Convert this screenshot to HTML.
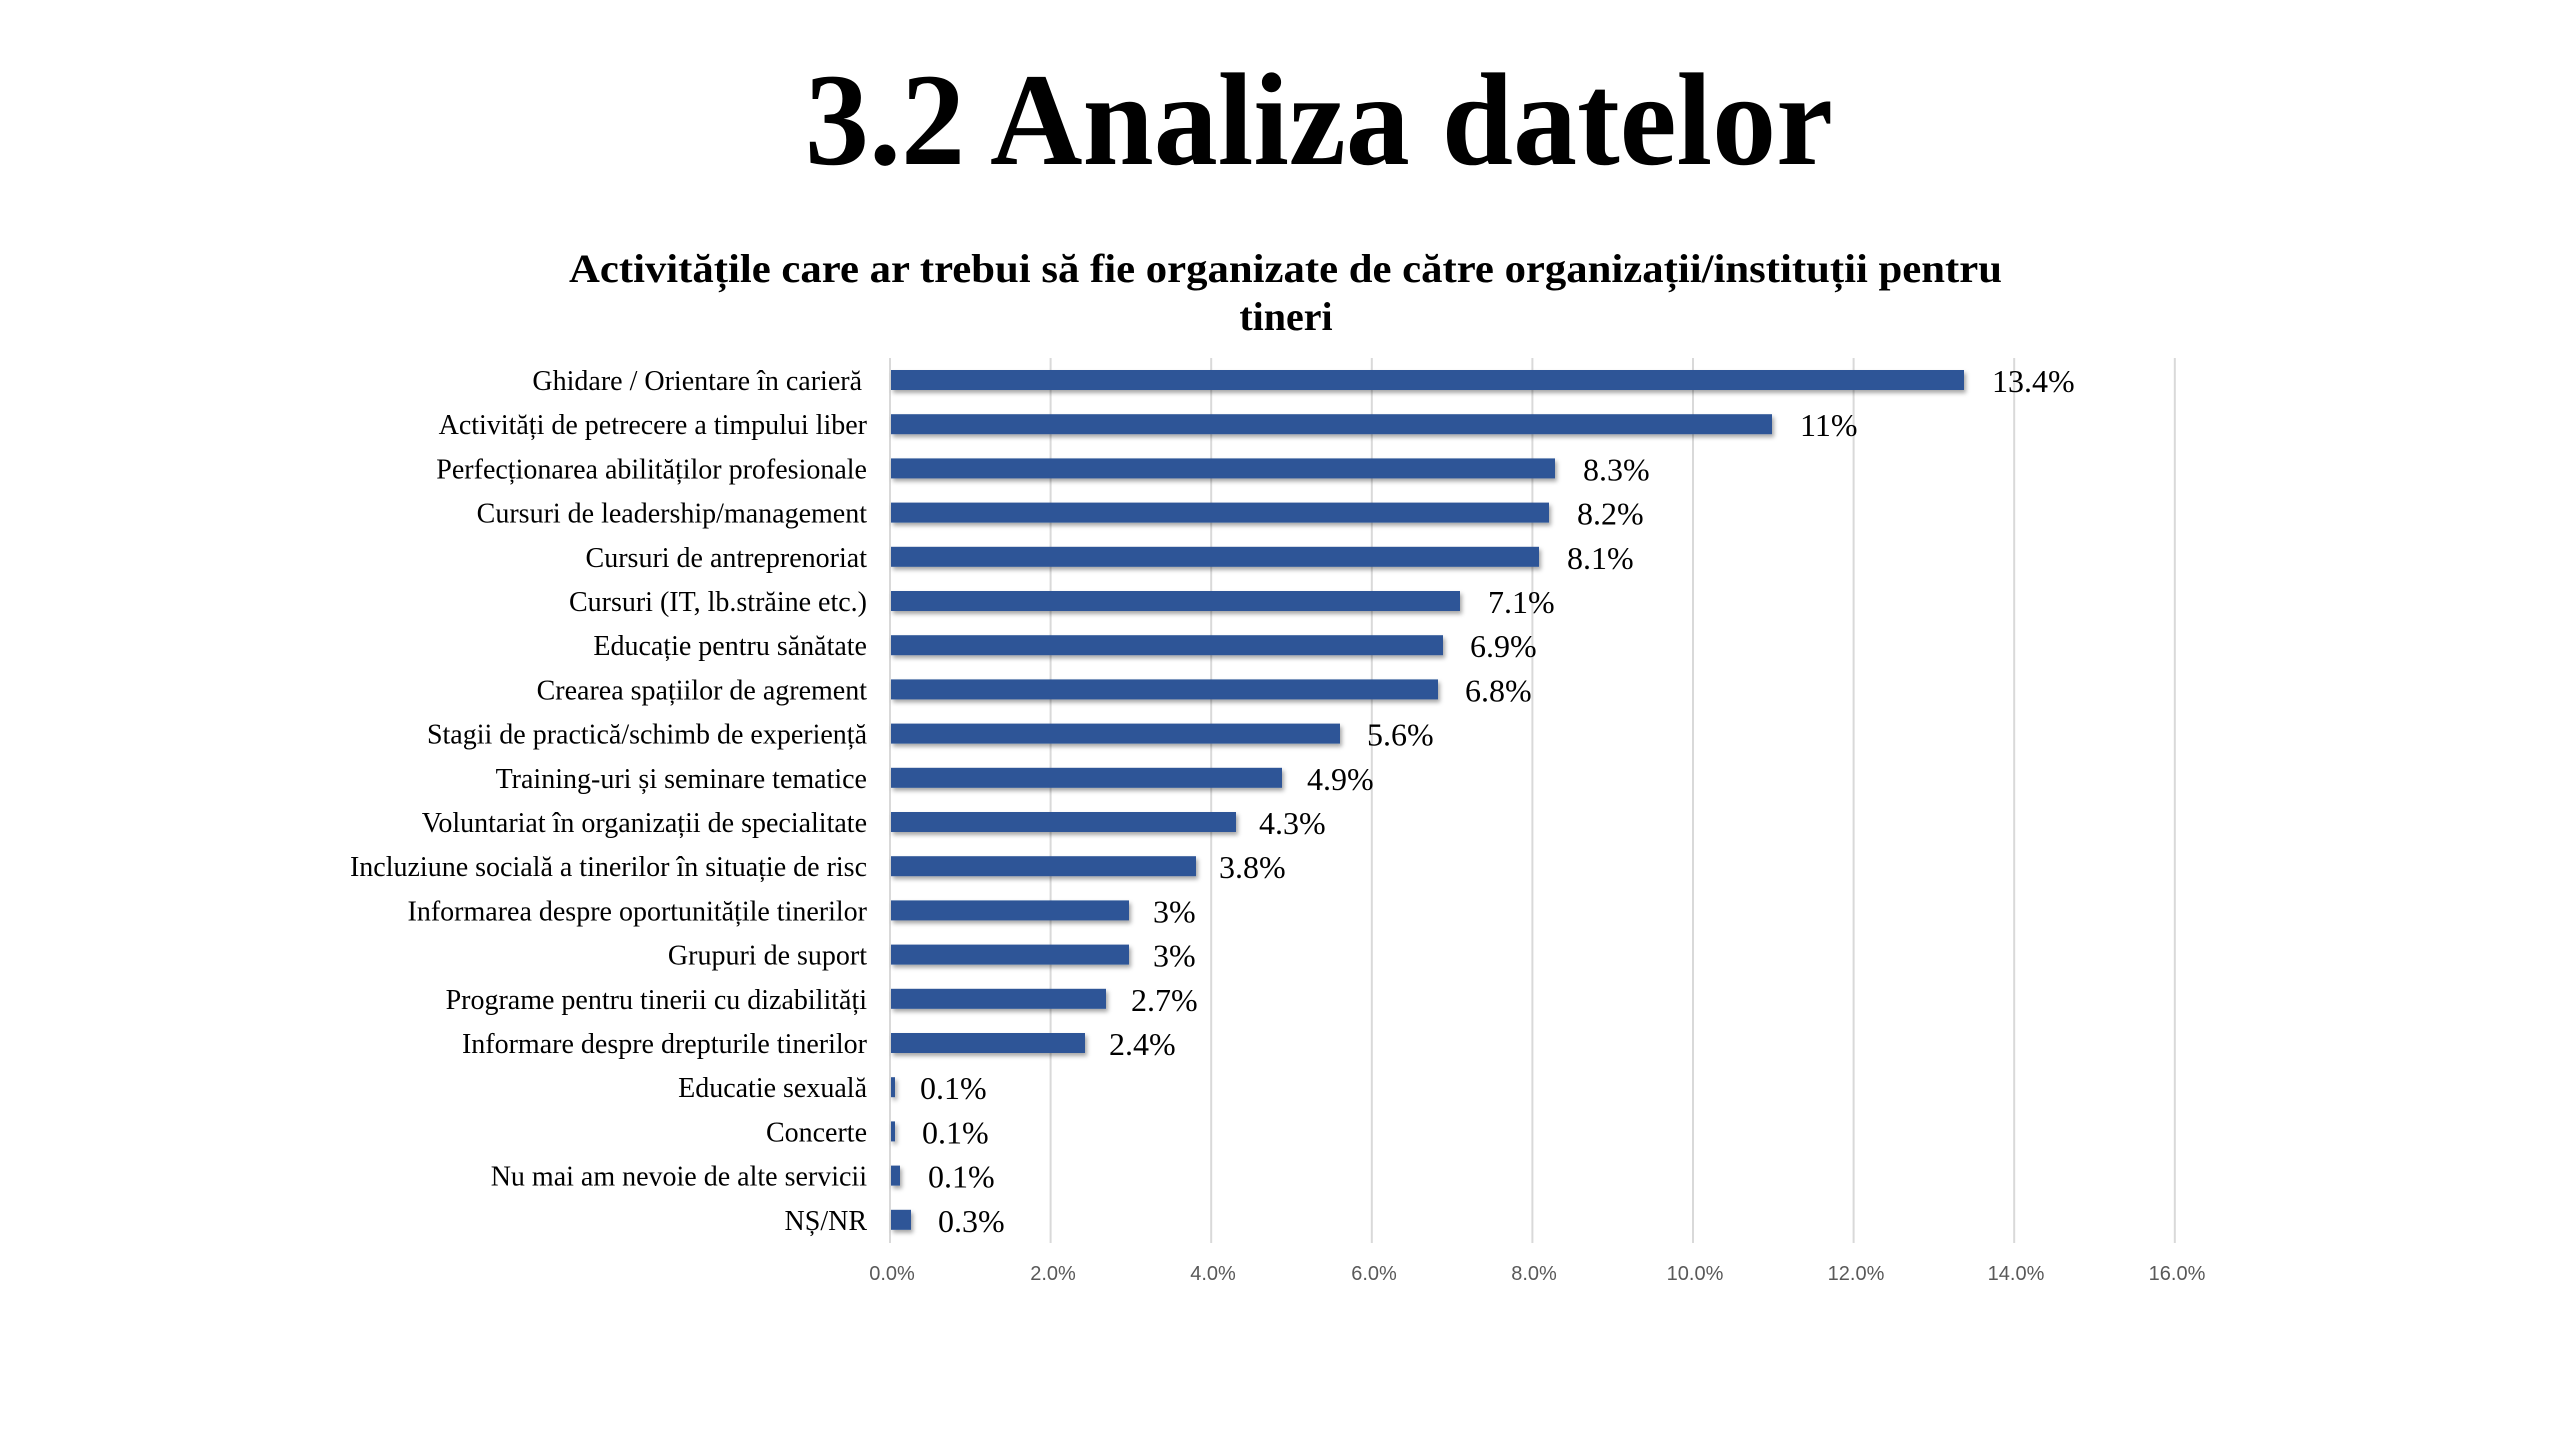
<!DOCTYPE html>
<html><head><meta charset="utf-8"><style>
html,body{margin:0;padding:0;background:#fff;}
svg{display:block;}
</style></head><body>
<svg width="2560" height="1440" viewBox="0 0 2560 1440" xmlns="http://www.w3.org/2000/svg">
<defs>
<filter id="sh" x="-5%" y="-50%" width="110%" height="200%">
<feDropShadow dx="2" dy="3" stdDeviation="2" flood-color="#000" flood-opacity="0.35"/>
</filter>
</defs>
<rect width="2560" height="1440" fill="#fff"/>
<text x="805" y="164" font-family="Liberation Serif, serif" font-weight="bold" font-size="132" textLength="1028" lengthAdjust="spacingAndGlyphs" fill="#000">3.2 Analiza datelor</text>
<text x="569" y="282" font-family="Liberation Serif, serif" font-weight="bold" font-size="40" textLength="1433" lengthAdjust="spacingAndGlyphs" fill="#000">Activitățile care ar trebui să fie organizate de către organizații/instituții pentru</text>
<text x="1286" y="330" text-anchor="middle" font-family="Liberation Serif, serif" font-weight="bold" font-size="40" fill="#000">tineri</text>
<g stroke="#d9d9d9" stroke-width="2">
<line x1="890" y1="358" x2="890" y2="1243"/>
<line x1="1050.6" y1="358" x2="1050.6" y2="1243"/>
<line x1="1211.2" y1="358" x2="1211.2" y2="1243"/>
<line x1="1371.8" y1="358" x2="1371.8" y2="1243"/>
<line x1="1532.4" y1="358" x2="1532.4" y2="1243"/>
<line x1="1693" y1="358" x2="1693" y2="1243"/>
<line x1="1853.6" y1="358" x2="1853.6" y2="1243"/>
<line x1="2014.2" y1="358" x2="2014.2" y2="1243"/>
<line x1="2174.8" y1="358" x2="2174.8" y2="1243"/>
</g>
<g font-family="Liberation Sans, sans-serif" font-size="20" fill="#595959" text-anchor="middle">
<text x="892" y="1280">0.0%</text>
<text x="1053" y="1280">2.0%</text>
<text x="1213" y="1280">4.0%</text>
<text x="1374" y="1280">6.0%</text>
<text x="1534" y="1280">8.0%</text>
<text x="1695" y="1280">10.0%</text>
<text x="1856" y="1280">12.0%</text>
<text x="2016" y="1280">14.0%</text>
<text x="2177" y="1280">16.0%</text>
</g>
<g id="bars" fill="#2f5597" filter="url(#sh)">
<rect x="891" y="370" width="1073" height="20"/>
<rect x="891" y="414.2" width="881" height="20"/>
<rect x="891" y="458.4" width="664" height="20"/>
<rect x="891" y="502.6" width="658" height="20"/>
<rect x="891" y="546.8" width="648" height="20"/>
<rect x="891" y="591" width="569" height="20"/>
<rect x="891" y="635.2" width="552" height="20"/>
<rect x="891" y="679.4" width="547" height="20"/>
<rect x="891" y="723.6" width="449" height="20"/>
<rect x="891" y="767.8" width="391" height="20"/>
<rect x="891" y="812" width="345" height="20"/>
<rect x="891" y="856.2" width="305" height="20"/>
<rect x="891" y="900.4" width="238" height="20"/>
<rect x="891" y="944.6" width="238" height="20"/>
<rect x="891" y="988.8" width="215" height="20"/>
<rect x="891" y="1033" width="194" height="20"/>
<rect x="891" y="1077.2" width="4" height="20"/>
<rect x="891" y="1121.4" width="4" height="20"/>
<rect x="891" y="1165.6" width="9" height="20"/>
<rect x="891" y="1209.8" width="20" height="20"/>
</g>
<g font-family="Liberation Serif, serif" font-size="28" fill="#000" text-anchor="end">
<text x="862" y="390">Ghidare / Orientare în carieră</text>
<text x="867" y="434.2">Activități de petrecere a timpului liber</text>
<text x="867" y="478.4">Perfecționarea abilităților profesionale</text>
<text x="867" y="522.6">Cursuri de leadership/management</text>
<text x="867" y="566.8">Cursuri de antreprenoriat</text>
<text x="867" y="611">Cursuri (IT, lb.străine etc.)</text>
<text x="867" y="655.2">Educație pentru sănătate</text>
<text x="867" y="699.4">Crearea spațiilor de agrement</text>
<text x="867" y="743.6">Stagii de practică/schimb de experiență</text>
<text x="867" y="787.8">Training-uri și seminare tematice</text>
<text x="867" y="832">Voluntariat în organizații de specialitate</text>
<text x="867" y="876.2">Incluziune socială a tinerilor în situație de risc</text>
<text x="867" y="920.4">Informarea despre oportunitățile tinerilor</text>
<text x="867" y="964.6">Grupuri de suport</text>
<text x="867" y="1008.8">Programe pentru tinerii cu dizabilități</text>
<text x="867" y="1053">Informare despre drepturile tinerilor</text>
<text x="867" y="1097.2">Educatie sexuală</text>
<text x="867" y="1141.4">Concerte</text>
<text x="867" y="1185.6">Nu mai am nevoie de alte servicii</text>
<text x="867" y="1229.8">NȘ/NR</text>
</g>
<g font-family="Liberation Serif, serif" font-size="32" fill="#000">
<text x="1992" y="392">13.4%</text>
<text x="1800" y="436.2">11%</text>
<text x="1583" y="480.4">8.3%</text>
<text x="1577" y="524.6">8.2%</text>
<text x="1567" y="568.8">8.1%</text>
<text x="1488" y="613">7.1%</text>
<text x="1470" y="657.2">6.9%</text>
<text x="1465" y="701.4">6.8%</text>
<text x="1367" y="745.6">5.6%</text>
<text x="1307" y="789.8">4.9%</text>
<text x="1259" y="834">4.3%</text>
<text x="1219" y="878.2">3.8%</text>
<text x="1153" y="922.4">3%</text>
<text x="1153" y="966.6">3%</text>
<text x="1131" y="1010.8">2.7%</text>
<text x="1109" y="1055">2.4%</text>
<text x="920" y="1099.2">0.1%</text>
<text x="922" y="1143.4">0.1%</text>
<text x="928" y="1187.6">0.1%</text>
<text x="938" y="1231.8">0.3%</text>
</g>
</svg>
</body></html>
